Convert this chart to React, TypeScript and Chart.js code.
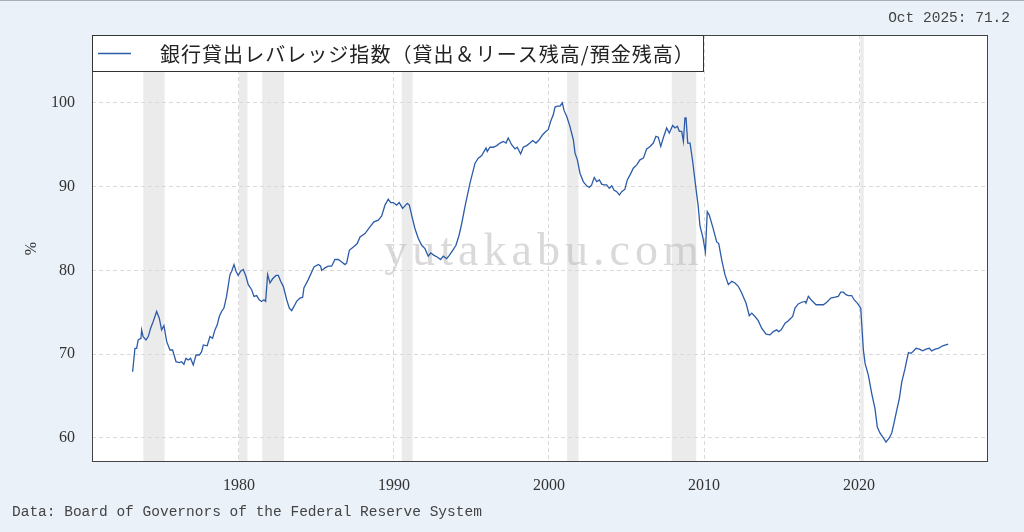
import React, { useEffect, useRef } from 'react';
import { Chart, registerables } from 'chart.js';

Chart.register(...registerables);

// ---- data ----
const years = [
  1973.14, 1973.29, 1973.4, 1973.5, 1973.68, 1973.72, 1973.82, 1974.0, 1974.15, 1974.3,
  1974.47, 1974.69, 1974.86, 1975.01, 1975.16, 1975.34, 1975.55, 1975.72, 1975.94, 1976.15,
  1976.3, 1976.45, 1976.58, 1976.73, 1976.88, 1977.05, 1977.23, 1977.44, 1977.59, 1977.7,
  1977.95, 1978.13, 1978.3, 1978.45, 1978.6, 1978.73, 1978.88, 1979.03, 1979.2, 1979.42,
  1979.53, 1979.68, 1979.81, 1979.95, 1980.11, 1980.28, 1980.45, 1980.6, 1980.82, 1980.97,
  1981.14, 1981.31, 1981.46, 1981.61, 1981.72, 1981.85, 1982.0, 1982.17, 1982.39, 1982.54,
  1982.69, 1982.86, 1983.08, 1983.25, 1983.4, 1983.55, 1983.72, 1983.94, 1984.11, 1984.19,
  1984.47, 1984.84, 1985.12, 1985.27, 1985.33, 1985.55, 1985.76, 1985.98, 1986.19, 1986.41,
  1986.63, 1986.84, 1986.95, 1987.12, 1987.38, 1987.63, 1987.81, 1988.13, 1988.45, 1988.71,
  1988.99, 1989.21, 1989.42, 1989.63, 1989.79, 1989.96, 1990.17, 1990.34, 1990.56, 1990.71,
  1990.86, 1990.99, 1991.14, 1991.35, 1991.57, 1991.79, 1992.0, 1992.21, 1992.37, 1992.58,
  1992.79, 1993.01, 1993.18, 1993.4, 1993.57, 1993.79, 1994.0, 1994.2, 1994.37, 1994.58,
  1994.9, 1995.23, 1995.44, 1995.66, 1995.81, 1995.94, 1996.02, 1996.19, 1996.41, 1996.63,
  1996.84, 1997.05, 1997.23, 1997.37, 1997.59, 1997.81, 1997.95, 1998.17, 1998.34, 1998.56,
  1998.77, 1998.95, 1999.16, 1999.37, 1999.59, 1999.81, 1999.95, 2000.11, 2000.28, 2000.39,
  2000.54, 2000.71, 2000.86, 2000.97, 2001.14, 2001.35, 2001.57, 2001.68, 2001.83, 2002.0,
  2002.21, 2002.43, 2002.6, 2002.75, 2002.92, 2003.08, 2003.25, 2003.4, 2003.55, 2003.72,
  2003.89, 2004.05, 2004.19, 2004.37, 2004.54, 2004.69, 2004.9, 2005.05, 2005.23, 2005.44,
  2005.66, 2005.87, 2006.09, 2006.3, 2006.52, 2006.73, 2006.9, 2007.05, 2007.21, 2007.37,
  2007.59, 2007.76, 2007.98, 2008.13, 2008.28, 2008.41, 2008.56, 2008.67, 2008.77, 2008.84,
  2008.95, 2009.1, 2009.27, 2009.48, 2009.63, 2009.74, 2009.92, 2010.09, 2010.21, 2010.34,
  2010.56, 2010.82, 2010.95, 2011.14, 2011.35, 2011.57, 2011.79, 2012.0, 2012.21, 2012.43,
  2012.71, 2012.92, 2013.08, 2013.29, 2013.5, 2013.72, 2014.0, 2014.26, 2014.47, 2014.69,
  2014.81, 2014.98, 2015.23, 2015.44, 2015.72, 2015.87, 2016.08, 2016.3, 2016.52, 2016.58,
  2016.73, 2016.95, 2017.23, 2017.44, 2017.7, 2017.92, 2018.18, 2018.45, 2018.66, 2018.82,
  2018.99, 2019.16, 2019.31, 2019.53, 2019.68, 2019.89, 2020.11, 2020.17, 2020.28, 2020.39,
  2020.6, 2020.82, 2021.03, 2021.18, 2021.35, 2021.57, 2021.74, 2021.95, 2022.11, 2022.26,
  2022.43, 2022.6, 2022.76, 2022.97, 2023.08, 2023.19, 2023.34, 2023.47, 2023.68, 2023.9,
  2024.11, 2024.32, 2024.54, 2024.69, 2024.9, 2025.12, 2025.4, 2025.75,
];

const leverage = [
  67.9, 70.7, 70.7, 71.7, 71.9, 72.9, 72.1, 71.7, 72.1, 73.1,
  73.9, 75.1, 74.3, 72.9, 73.4, 71.5, 70.5, 70.5, 69.1, 69.0,
  69.1, 68.8, 69.5, 69.3, 69.5, 68.7, 69.9, 69.9, 70.3, 71.1,
  71.0, 72.1, 71.9, 72.9, 73.5, 74.5, 75.1, 75.5, 76.9, 79.5,
  79.9, 80.7, 79.9, 79.4, 79.9, 80.1, 79.3, 78.3, 77.7, 76.9,
  77.0, 76.5, 76.3, 76.5, 76.3, 79.5, 78.5, 79.0, 79.4, 79.4,
  78.7, 78.1, 76.5, 75.5, 75.2, 75.7, 76.3, 76.7, 76.8, 77.9,
  78.9, 80.4, 80.7, 80.5, 80.0, 80.3, 80.5, 80.5, 81.3, 81.3,
  81.0, 80.7, 80.9, 82.4, 82.8, 83.2, 84.0, 84.4, 85.2, 85.8,
  86.0, 86.5, 87.8, 88.5, 88.1, 88.1, 87.8, 88.1, 87.4, 87.7,
  88.0, 87.8, 86.6, 85.0, 83.8, 83.0, 82.6, 81.7, 82.1, 81.8,
  81.6, 81.3, 81.7, 81.4, 81.8, 82.4, 83.0, 84.2, 85.6, 87.6,
  90.4, 92.8, 93.4, 93.7, 94.2, 94.6, 94.2, 94.7, 94.7, 94.9,
  95.2, 95.4, 95.2, 95.8, 95.0, 94.5, 94.7, 93.9, 94.7, 94.9,
  95.2, 95.5, 95.2, 95.6, 96.2, 96.6, 96.8, 97.8, 98.6, 99.5,
  99.6, 99.6, 100.0, 99.1, 98.4, 97.2, 95.6, 94.0, 93.2, 91.6,
  90.6, 90.1, 89.9, 90.2, 91.1, 90.6, 90.8, 90.3, 90.2, 90.2,
  89.8, 90.1, 89.6, 89.4, 89.0, 89.4, 89.7, 90.8, 91.4, 92.2,
  92.6, 93.2, 93.4, 94.5, 94.8, 95.2, 96.0, 95.9, 94.8, 95.8,
  97.0, 96.4, 97.3, 97.0, 97.2, 96.6, 96.6, 95.4, 98.2, 98.2,
  95.2, 95.2, 93.0, 89.8, 87.6, 85.3, 84.0, 82.2, 87.0, 86.6,
  85.2, 83.4, 83.2, 81.3, 79.5, 78.3, 78.7, 78.5, 78.1, 77.3,
  76.1, 74.6, 74.9, 74.5, 74.0, 73.1, 72.4, 72.3, 72.7, 72.9,
  72.7, 72.9, 73.7, 74.0, 74.5, 75.5, 76.0, 76.2, 76.3, 76.1,
  76.9, 76.4, 75.9, 75.9, 75.9, 76.2, 76.7, 76.8, 76.9, 77.4,
  77.4, 77.1, 77.0, 77.0, 76.5, 76.1, 75.5, 73.7, 70.5, 68.9,
  67.5, 65.3, 63.5, 61.3, 60.6, 60.0, 59.5, 60.0, 60.6, 61.8,
  63.3, 64.7, 66.7, 68.3, 69.3, 70.2, 70.1, 70.3, 70.7, 70.6,
  70.4, 70.6, 70.7, 70.4, 70.6, 70.7, 71.0, 71.2,
];

// NBER recessions (start, end as decimal years)
const recessionStarts = [1973.83, 1980.0, 1981.5, 1990.5, 2001.17, 2007.92, 2020.08];
const recessionEnds = [1975.2, 1980.55, 1982.9, 1991.2, 2001.9, 2009.5, 2020.3];

const xTickValues = [1980, 1990, 2000, 2010, 2020];
const yTickValues = [60, 70, 80, 90, 100];

const seriesLabel = '銀行貸出レバレッジ指数（貸出＆リース残高/預金残高）';
const latestLabel = 'Oct 2025: 71.2';
const sourceLabel = 'Data: Board of Governors of the Federal Reserve System';
const watermarkText = 'yutakabu.com';
const yAxisTitle = '%';

const LINE_COLOR = '#2c5ca8';
const PAGE_BG = '#eaf1f9';
const TICK_FONT = { family: '"Liberation Serif", "Times New Roman", serif', size: 16 };

const decorPlugin = {
  id: 'decor',
  beforeDraw(chart: any) {
    const { ctx, chartArea: a, scales } = chart;
    const x = scales.x;
    ctx.save();
    ctx.fillStyle = PAGE_BG;
    ctx.fillRect(0, 0, chart.width, chart.height);
    ctx.fillStyle = '#ffffff';
    ctx.fillRect(a.left, a.top, a.right - a.left, a.bottom - a.top);
    ctx.fillStyle = '#ebebeb';
    recessionStarts.forEach((s, i) => {
      const x0 = x.getPixelForValue(s);
      const x1 = x.getPixelForValue(recessionEnds[i]);
      ctx.fillRect(x0, a.top, x1 - x0, a.bottom - a.top);
    });
    ctx.restore();
  },
  beforeDatasetsDraw(chart: any) {
    const { ctx } = chart;
    ctx.save();
    ctx.font = '46px "Liberation Serif", serif';
    (ctx as any).letterSpacing = '5px';
    ctx.fillStyle = 'rgba(185,185,185,0.55)';
    ctx.textAlign = 'center';
    ctx.textBaseline = 'alphabetic';
    ctx.fillText(watermarkText, 544, 265);
    ctx.restore();
  },
  afterDraw(chart: any) {
    const { ctx, chartArea: a } = chart;
    ctx.save();
    // plot frame
    ctx.strokeStyle = '#444';
    ctx.lineWidth = 1;
    ctx.strokeRect(a.left + 0.5, a.top + 0.5, a.right - a.left - 1, a.bottom - a.top - 1);
    // legend box
    const lx = a.left + 0.5;
    const ly = a.top + 0.5;
    const lw = 611;
    const lh = 36;
    ctx.fillStyle = '#ffffff';
    ctx.fillRect(lx, ly, lw, lh);
    ctx.strokeStyle = '#333';
    ctx.strokeRect(lx, ly, lw, lh);
    ctx.strokeStyle = LINE_COLOR;
    ctx.lineWidth = 1.3;
    ctx.beginPath();
    ctx.moveTo(a.left + 6, ly + lh / 2);
    ctx.lineTo(a.left + 39, ly + lh / 2);
    ctx.stroke();
    ctx.fillStyle = '#222';
    ctx.font = '20px "Noto Sans CJK JP", sans-serif';
    const w = ctx.measureText(seriesLabel).width;
    const n = [...seriesLabel].length;
    const spacing = Math.max(0, (535 - w) / n);
    (ctx as any).letterSpacing = spacing.toFixed(2) + 'px';
    ctx.textBaseline = 'middle';
    ctx.textAlign = 'left';
    ctx.fillText(seriesLabel, a.left + 68, ly + lh / 2 + 1);
    ctx.restore();
  },
};

export default function App() {
  const canvasRef = useRef<HTMLCanvasElement | null>(null);

  useEffect(() => {
    const canvas = canvasRef.current;
    if (!canvas) return;
    const points = years.map((yr, i) => ({ x: yr, y: leverage[i] }));
    const chart = new Chart(canvas, {
      type: 'line',
      data: {
        datasets: [
          {
            label: seriesLabel,
            data: points,
            borderColor: LINE_COLOR,
            borderWidth: 1.3,
            pointRadius: 0,
            tension: 0,
            fill: false,
          },
        ],
      },
      options: {
        responsive: false,
        animation: false,
        devicePixelRatio: 1,
        layout: { padding: { left: 22, top: 35, right: 36, bottom: 0 } },
        plugins: {
          legend: { display: false },
          tooltip: { enabled: false },
        },
        scales: {
          x: {
            type: 'linear',
            min: 1970.52,
            max: 2028.32,
            afterBuildTicks: (scale: any) => {
              scale.ticks = xTickValues.map((v) => ({ value: v }));
            },
            afterFit: (scale: any) => {
              scale.height = 70;
            },
            ticks: {
              callback: (v: any) => String(v),
              font: TICK_FONT,
              color: '#333',
              padding: 14,
              maxRotation: 0,
              autoSkip: false,
            },
            grid: { color: '#d9d9d9', drawTicks: false, lineWidth: 1 },
            border: { display: false, dash: [4, 3] },
          },
          y: {
            type: 'linear',
            min: 57.13,
            max: 108.1,
            afterBuildTicks: (scale: any) => {
              scale.ticks = yTickValues.map((v) => ({ value: v }));
            },
            afterFit: (scale: any) => {
              scale.width = 70;
            },
            ticks: {
              callback: (v: any) => String(v),
              font: TICK_FONT,
              color: '#333',
              padding: 17,
            },
            title: {
              display: true,
              text: yAxisTitle,
              font: TICK_FONT,
              color: '#333',
              padding: { top: 0, bottom: 0 },
            },
            grid: { color: '#d9d9d9', drawTicks: false, lineWidth: 1 },
            border: { display: false, dash: [4, 3] },
          },
        },
      },
      plugins: [decorPlugin],
    });
    return () => chart.destroy();
  }, []);

  const monoFont = '"Liberation Mono", "DejaVu Sans Mono", monospace';

  return (
    <div
      style={{
        position: 'fixed',
        left: 0,
        top: 0,
        width: 1024,
        height: 532,
        background: PAGE_BG,
        overflow: 'hidden',
      }}
    >
      <canvas ref={canvasRef} width={1024} height={532} style={{ display: 'block' }} />
      <div style={{ position: 'absolute', left: 0, top: 0, width: 1024, height: 1, background: '#a8aeb5' }} />
      <div
        style={{
          position: 'absolute',
          right: 14,
          top: 9,
          fontFamily: monoFont,
          fontSize: 14.5,
          color: '#444',
          lineHeight: '18px',
          whiteSpace: 'pre',
        }}
      >
        {latestLabel}
      </div>
      <div
        style={{
          position: 'absolute',
          left: 12,
          top: 503,
          fontFamily: monoFont,
          fontSize: 14.5,
          color: '#444',
          lineHeight: '18px',
          whiteSpace: 'pre',
        }}
      >
        {sourceLabel}
      </div>
    </div>
  );
}
